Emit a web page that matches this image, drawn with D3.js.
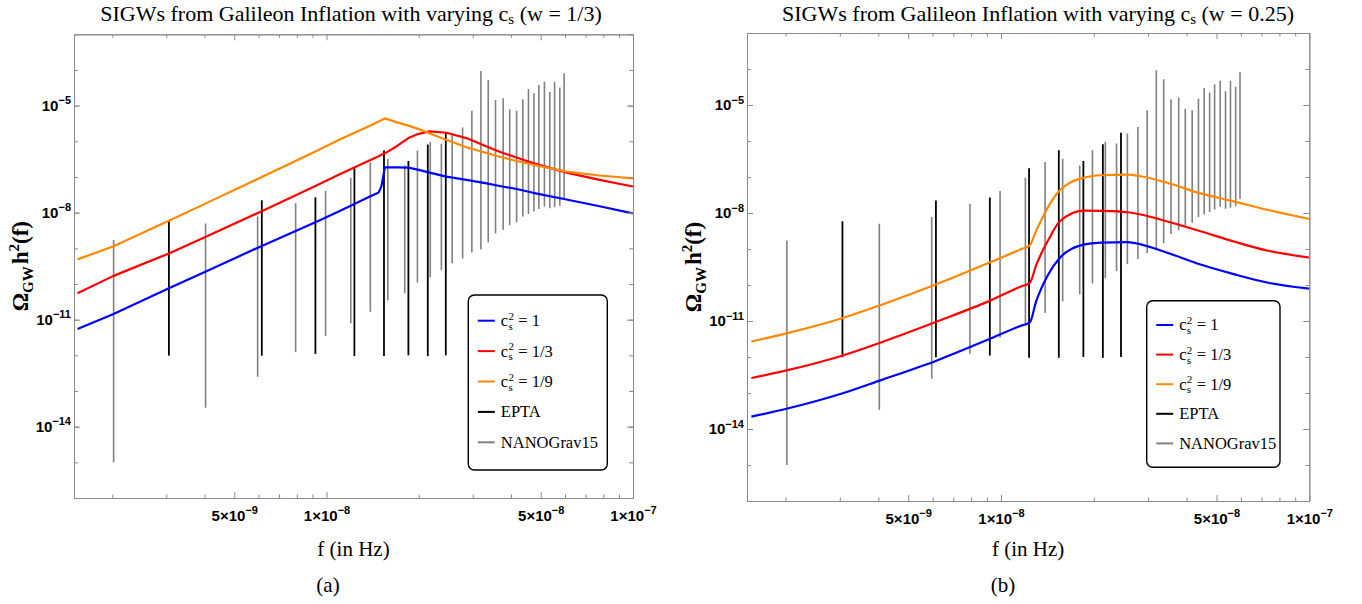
<!DOCTYPE html>
<html>
<head>
<meta charset="utf-8">
<script src="https://cdn.jsdelivr.net/npm/d3@7"></script>
<style>
  body { margin: 0; background: #fff; }
  svg { display: block; }
</style>
</head>
<body>
<svg id="fig" width="1362" height="604"></svg>
<script>
// ---- PTA free-spectrum bins (frequency in Hz, lower / upper Omega_GW h^2) ----
const nanoFreq = [2.02e-9, 4.03e-9, 5.96e-9, 7.93e-9, 9.93e-9, 1.20e-8, 1.39e-8, 1.585e-8, 1.80e-8, 1.98e-8,
                  2.18e-8, 2.37e-8, 2.57e-8, 2.78e-8, 2.98e-8, 3.19e-8, 3.37e-8, 3.56e-8, 3.77e-8, 3.96e-8,
                  4.17e-8, 4.37e-8, 4.56e-8, 4.75e-8, 4.93e-8, 5.14e-8, 5.35e-8, 5.55e-8, 5.77e-8, 5.96e-8];
const nanoLow  = [1.0e-15, 3.4e-14, 2.5e-13, 1.23e-12, 3.5e-12, 7.9e-12, 1.66e-11, 3.5e-11, 5.5e-11, 1.1e-10,
                  1.55e-10, 2.45e-10, 3.8e-10, 5.2e-10, 7.6e-10, 9.3e-10, 1.45e-9, 2.6e-9, 3.3e-9, 4.4e-9,
                  5.4e-9, 7.8e-9, 9.1e-9, 1.07e-8, 1.26e-8, 1.48e-8, 1.32e-8, 1.41e-8, 1.55e-8, 2.5e-8];
const nanoHigh = [1.72e-9, 5.0e-9, 7.8e-9, 1.82e-8, 4.1e-8, 9.5e-8, 2.6e-7, 3.2e-7, 2.1e-7, 5.5e-7,
                  9.5e-7, 8.5e-7, 1.62e-6, 2.45e-6, 7.2e-6, 9.3e-5, 5.2e-5, 1.45e-5, 1.62e-5, 7.9e-6,
                  7.2e-6, 1.51e-5, 2.95e-5, 2.24e-5, 3.8e-5, 4.7e-5, 2.4e-5, 4.7e-5, 3.2e-5, 8.1e-5];

const eptaFreq = [3.06e-9, 6.15e-9, 9.2e-9, 1.233e-8, 1.54e-8, 1.85e-8, 2.14e-8, 2.45e-8];
const eptaLow  = [9.8e-13, 9.8e-13, 1.1e-12, 9.5e-13, 9.5e-13, 1.0e-12, 9.5e-13, 1.0e-12];
const eptaHigh = [5.9e-9, 2.24e-8, 2.7e-8, 1.74e-7, 5.5e-7, 2.8e-7, 8.1e-7, 1.7e-6];

// ---- SIGW spectra, w = 1/3 ----
const freqA = [1.54e-9, 2.01e-9, 3.06e-9, 4.04e-9, 6.15e-9, 9.2e-9, 1.10e-8, 1.38e-8, 1.48e-8, 1.51e-8,
               1.55e-8, 1.70e-8, 1.85e-8, 2.0e-8, 2.17e-8, 2.46e-8, 2.86e-8, 3.33e-8, 3.67e-8, 4.17e-8,
               4.72e-8, 6.07e-8, 7.78e-8, 1.0e-7];
const cs1A = [5.5e-12, 1.41e-11, 7.6e-11, 2.24e-10, 1.17e-9, 5.4e-9, 1.1e-8, 2.8e-8, 3.7e-8, 5.4e-8,
              1.86e-7, 1.86e-7, 1.82e-7, 1.58e-7, 1.32e-7, 1.02e-7, 8.3e-8, 6.6e-8, 5.6e-8, 4.6e-8,
              3.6e-8, 2.34e-8, 1.51e-8, 9.5e-9];
const cs3A = [5.5e-11, 1.66e-10, 7.2e-10, 2.1e-9, 1.1e-8, 5.6e-8, 1.17e-7, 2.9e-7, 3.8e-7, 4.2e-7,
              4.6e-7, 7.4e-7, 1.23e-6, 1.62e-6, 1.9e-6, 1.74e-6, 1.23e-6, 7.2e-7, 5.1e-7, 3.5e-7,
              2.45e-7, 1.32e-7, 8.3e-8, 5.4e-8];
const cs9A = [4.9e-10, 1.12e-9, 5.9e-9, 1.82e-8, 1.0e-7, 5.2e-7, 1.1e-6, 2.7e-6, 3.6e-6, 3.9e-6,
              4.4e-6, 3.4e-6, 2.75e-6, 2.2e-6, 1.66e-6, 1.1e-6, 6.8e-7, 4.7e-7, 3.7e-7, 2.8e-7,
              2.2e-7, 1.41e-7, 1.1e-7, 9.1e-8];

// ---- SIGW spectra, w = 0.25 ----
const freqB = [1.55e-9, 2.03e-9, 3.03e-9, 4.06e-9, 6.17e-9, 9.29e-9, 1.16e-8, 1.24e-8, 1.30e-8, 1.35e-8,
               1.42e-8, 1.55e-8, 1.85e-8, 2.11e-8, 2.57e-8, 2.84e-8, 3.46e-8, 4.44e-8, 5.69e-8, 7.29e-8, 1.0e-7];
const cs1B = [2.2e-14, 3.7e-14, 9.5e-14, 2.24e-13, 7.9e-13, 3.3e-12, 7.4e-12, 9.1e-12, 3.5e-11, 7.9e-11,
              1.9e-10, 5.6e-10, 1.32e-9, 1.51e-9, 1.55e-9, 1.35e-9, 7.9e-10, 3.7e-10, 2.0e-10, 1.17e-10, 7.9e-11];
const cs3B = [2.6e-13, 4.3e-13, 1.07e-12, 2.5e-12, 9.5e-12, 3.8e-11, 9.1e-11, 1.15e-10, 3.5e-10, 7.4e-10,
              1.7e-9, 5.8e-9, 1.17e-8, 1.15e-8, 1.05e-8, 9.1e-9, 5.8e-9, 3.1e-9, 1.62e-9, 9.1e-10, 5.8e-10];
const cs9B = [2.7e-12, 4.6e-12, 1.17e-11, 2.75e-11, 1.05e-10, 4.4e-10, 9.8e-10, 1.26e-9, 3.2e-9, 6.2e-9,
              1.45e-8, 4.2e-8, 9.5e-8, 1.12e-7, 1.17e-7, 1.05e-7, 6.9e-8, 3.5e-8, 2.1e-8, 1.23e-8, 6.8e-9];

// ---- series labels, colours and ticks ----
const csLabels = ["1", "1/3", "1/9"];
const seriesColors = ["#0000ff", "#ff0000", "#ff8800"];
const eptaColor = "#000000";
const nanoColor = "#808080";

const xDomain = [1.5e-9, 1e-7];
const yDomain = [1e-16, 1e-3];
const xMajor = [5e-9, 1e-8, 5e-8, 1e-7];
const xMinor = [2e-9, 3e-9, 4e-9, 6e-9, 7e-9, 8e-9, 9e-9, 2e-8, 3e-8, 4e-8, 6e-8, 7e-8, 8e-8, 9e-8];
const yDecades = [1e-16, 1e-15, 1e-14, 1e-13, 1e-12, 1e-11, 1e-10, 1e-9, 1e-8, 1e-7, 1e-6, 1e-5, 1e-4, 1e-3];
const yMajor = [1e-14, 1e-11, 1e-8, 1e-5];

const SERIF = "'Liberation Serif', 'DejaVu Serif', serif";
const SANS = "'Liberation Sans', Arial, sans-serif";
const FRAME = "#8a8a8a";

const panels = [
  { id: "a", wLabel: "1/3", freq: freqA, series: [cs1A, cs3A, cs9A], smooth: false,
    left: 74, right: 633, top: 34.3, bottom: 498, titleX: 351, yLabelX: 28, captionX: 328,
    legend: { x: 468.3, y: 295, w: 139, h: 175, row0: 25.7, step: 30.4 } },
  { id: "b", wLabel: "0.25", freq: freqB, series: [cs1B, cs3B, cs9B], smooth: true,
    left: 747, right: 1309.3, top: 33, bottom: 501, titleX: 1038, yLabelX: 701, captionX: 1003,
    legend: { x: 1146.7, y: 300.7, w: 133.3, h: 166.6, row0: 24.3, step: 29.6 } }
];

const svg = d3.select("#fig");
const defs = svg.append("defs");

function styleAxis(sel) {
  sel.select(".domain").attr("stroke", FRAME).attr("stroke-width", 1);
  sel.selectAll(".tick line").attr("stroke", FRAME).attr("stroke-width", 1);
}

// "m×10^e" or "10^e" tick labels with a raised exponent
function powerLabels(sel, withMantissa) {
  sel.selectAll(".tick text").each(function (d) {
    const e = Math.floor(Math.log10(d) + 1e-9);
    const m = Math.round(d / Math.pow(10, e));
    const t = d3.select(this).text(null);
    t.append("tspan").text(withMantissa ? m + "×10" : "10");
    t.append("tspan").attr("font-size", 11).attr("dy", "-0.6em").text("−" + Math.abs(e));
  });
}

function drawPanel(p) {
  const x = d3.scaleLog().domain(xDomain).range([p.left, p.right]);
  const y = d3.scaleLog().domain(yDomain).range([p.bottom, p.top]);
  const g = svg.append("g").attr("class", "panel-" + p.id);

  const clipId = "clip-" + p.id;
  defs.append("clipPath").attr("id", clipId).append("rect")
    .attr("x", p.left).attr("y", p.top)
    .attr("width", p.right - p.left).attr("height", p.bottom - p.top);

  // error bars: NANOGrav15 (grey) and EPTA (black)
  const bars = g.append("g").attr("clip-path", `url(#${clipId})`);
  bars.selectAll("line.nano").data(nanoFreq).join("line").attr("class", "nano")
    .attr("x1", d => x(d)).attr("x2", d => x(d))
    .attr("y1", (d, i) => y(nanoLow[i])).attr("y2", (d, i) => y(nanoHigh[i]))
    .attr("stroke", nanoColor).attr("stroke-width", 1.6);
  bars.selectAll("line.epta").data(eptaFreq).join("line").attr("class", "epta")
    .attr("x1", d => x(d)).attr("x2", d => x(d))
    .attr("y1", (d, i) => y(eptaLow[i])).attr("y2", (d, i) => y(eptaHigh[i]))
    .attr("stroke", eptaColor).attr("stroke-width", 1.8);

  // spectra
  const line = d3.line()
    .x(d => x(d[0])).y(d => y(d[1]))
    .curve(p.smooth ? d3.curveMonotoneX : d3.curveLinear);
  const curves = g.append("g").attr("clip-path", `url(#${clipId})`);
  p.series.forEach((vals, k) => {
    curves.append("path")
      .datum(p.freq.map((f, i) => [f, vals[i]]))
      .attr("d", line)
      .attr("fill", "none")
      .attr("stroke", seriesColors[k])
      .attr("stroke-width", 2.2)
      .attr("stroke-linejoin", "round");
  });

  // frame with inward ticks on all four sides
  const axFont = sel => sel.attr("font-family", SANS).attr("font-size", 15).attr("font-weight", "bold");

  g.append("g").attr("transform", `translate(0,${p.bottom})`)
    .call(d3.axisBottom(x).tickValues(xMinor).tickSizeInner(-3.5).tickSizeOuter(0).tickFormat(() => ""))
    .call(styleAxis);
  g.append("g").attr("transform", `translate(0,${p.bottom})`)
    .call(d3.axisBottom(x).tickValues(xMajor).tickSizeInner(-6).tickSizeOuter(0).tickPadding(12))
    .call(styleAxis).call(axFont).call(s => powerLabels(s, true));

  g.append("g").attr("transform", `translate(0,${p.top})`)
    .call(d3.axisTop(x).tickValues(xMinor).tickSizeInner(-3.5).tickSizeOuter(0).tickFormat(() => ""))
    .call(styleAxis);
  g.append("g").attr("transform", `translate(0,${p.top})`)
    .call(d3.axisTop(x).tickValues(xMajor).tickSizeInner(-6).tickSizeOuter(0).tickFormat(() => ""))
    .call(styleAxis);

  g.append("g").attr("transform", `translate(${p.left},0)`)
    .call(d3.axisLeft(y).tickValues(yDecades).tickSizeInner(-4).tickSizeOuter(0).tickFormat(() => ""))
    .call(styleAxis);
  g.append("g").attr("transform", `translate(${p.left},0)`)
    .call(d3.axisLeft(y).tickValues(yMajor).tickSizeInner(-6).tickSizeOuter(0).tickPadding(3))
    .call(styleAxis).call(axFont).call(s => powerLabels(s, false));

  g.append("g").attr("transform", `translate(${p.right},0)`)
    .call(d3.axisRight(y).tickValues(yDecades).tickSizeInner(-4).tickSizeOuter(0).tickFormat(() => ""))
    .call(styleAxis);
  g.append("g").attr("transform", `translate(${p.right},0)`)
    .call(d3.axisRight(y).tickValues(yMajor).tickSizeInner(-6).tickSizeOuter(0).tickFormat(() => ""))
    .call(styleAxis);

  // title
  const title = g.append("text").attr("x", p.titleX).attr("y", 20.7)
    .attr("text-anchor", "middle").attr("font-family", SERIF).attr("font-size", 22).attr("fill", "#000");
  title.append("tspan").text("SIGWs from Galileon Inflation with varying c");
  title.append("tspan").attr("font-size", 15).attr("dy", 3.5).text("s");
  title.append("tspan").attr("dy", -3.5).text(" (w = " + p.wLabel + ")");

  // axis titles
  g.append("text").attr("x", (p.left + p.right) / 2).attr("y", 556)
    .attr("text-anchor", "middle").attr("font-family", SERIF).attr("font-size", 21)
    .text("f (in Hz)");

  const yl = g.append("text")
    .attr("transform", `translate(${p.yLabelX},${(p.top + p.bottom) / 2}) rotate(-90)`)
    .attr("text-anchor", "middle").attr("font-family", SERIF).attr("font-size", 23).attr("font-weight", "bold");
  yl.append("tspan").text("Ω");
  yl.append("tspan").attr("font-size", 15).attr("dy", 5).text("GW");
  yl.append("tspan").attr("dx", 2).attr("dy", -5).text("h");
  yl.append("tspan").attr("font-size", 15).attr("dy", -9).text("2");
  yl.append("tspan").attr("dy", 9).text("(f)");

  // sub-figure caption
  g.append("text").attr("x", p.captionX).attr("y", 592)
    .attr("text-anchor", "middle").attr("font-family", SERIF).attr("font-size", 21)
    .text("(" + p.id + ")");

  // legend
  const L = p.legend;
  const lg = g.append("g").attr("transform", `translate(${L.x},${L.y})`);
  lg.append("rect").attr("width", L.w).attr("height", L.h).attr("rx", 6).attr("ry", 6)
    .attr("fill", "#fff").attr("stroke", "#000").attr("stroke-width", 1.4);

  const entries = csLabels.map((c, k) => ({ color: seriesColors[k], cs: c }))
    .concat([{ color: eptaColor, text: "EPTA" }, { color: nanoColor, text: "NANOGrav15" }]);

  entries.forEach((e, i) => {
    const yy = L.row0 + i * L.step;
    lg.append("line").attr("x1", 9.5).attr("x2", 26.5).attr("y1", yy).attr("y2", yy)
      .attr("stroke", e.color).attr("stroke-width", 2);
    const tx = 32.5, ty = yy + 5.5;
    if (e.text) {
      lg.append("text").attr("x", tx).attr("y", ty)
        .attr("font-family", SERIF).attr("font-size", 16.5).text(e.text);
    } else {
      const t = lg.append("g").attr("font-family", SERIF);
      t.append("text").attr("x", tx).attr("y", ty).attr("font-size", 16.5).text("c");
      t.append("text").attr("x", tx + 7.6).attr("y", ty - 6.5).attr("font-size", 11).text("2");
      t.append("text").attr("x", tx + 7.6).attr("y", ty + 3.5).attr("font-size", 11).text("s");
      t.append("text").attr("x", tx + 17.5).attr("y", ty).attr("font-size", 16.5).text("= " + e.cs);
    }
  });
}

panels.forEach(drawPanel);
</script>
</body>
</html>
